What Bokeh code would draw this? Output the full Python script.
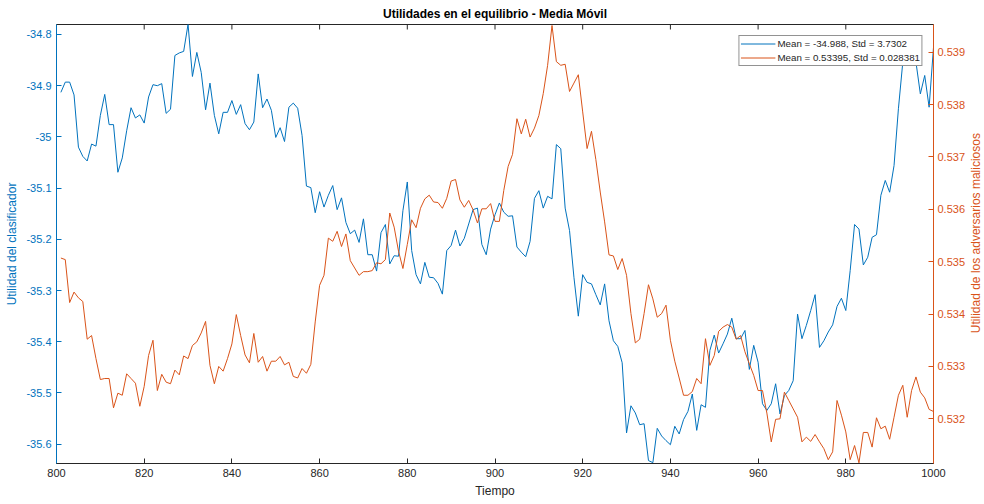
import math
from bokeh.plotting import figure
from bokeh.layouts import row
from bokeh.models import (Range1d, LinearAxis, FixedTicker, CustomJSTickFormatter,
                          Legend, LegendItem, ColumnDataSource, Label)
from bokeh.embed import file_html
from bokeh.resources import INLINE

# ---------------- data ----------------
tiempo = list(range(801, 1001))

utilidad_clasificador = [
    -34.913, -34.893, -34.893, -34.918, -35.020, -35.038, -35.047, -35.014, -35.018, -34.958,
    -34.917, -34.976, -34.976, -35.069, -35.041, -34.988, -34.943, -34.963, -34.957, -34.973,
    -34.922, -34.898, -34.900, -34.896, -34.954, -34.946, -34.841, -34.836, -34.833, -34.780,
    -34.882, -34.835, -34.874,
    -34.947, -34.895, -34.958, -34.994, -34.952, -34.952, -34.929, -34.956, -34.937, -34.974,
    -34.986, -34.971, -34.877, -34.943, -34.926, -34.948, -35.001, -34.982, -35.009, -34.942,
    -34.934, -34.944, -34.997, -35.096, -35.099, -35.148, -35.107, -35.137, -35.114, -35.095,
    -35.142, -35.119, -35.167,
    -35.189, -35.182, -35.206, -35.160, -35.230, -35.230, -35.262, -35.187, -35.171, -35.248,
    -35.232, -35.233, -35.144, -35.088, -35.222, -35.269, -35.287, -35.245, -35.274, -35.275,
    -35.286, -35.307, -35.222, -35.212, -35.182, -35.213, -35.198, -35.170, -35.142, -35.139,
    -35.210, -35.230, -35.180,
    -35.152, -35.129, -35.147, -35.155, -35.154, -35.215, -35.225, -35.234, -35.204, -35.120,
    -35.105, -35.139, -35.116, -35.121, -35.015, -35.023, -35.139, -35.183, -35.274, -35.350,
    -35.269, -35.284, -35.287, -35.308, -35.328, -35.287, -35.359, -35.398, -35.409, -35.441,
    -35.578, -35.525, -35.539,
    -35.562, -35.560, -35.632, -35.636, -35.569, -35.584, -35.593, -35.601, -35.565, -35.580,
    -35.552, -35.536, -35.502, -35.573, -35.523, -35.528, -35.417, -35.387, -35.422, -35.404,
    -35.385, -35.354, -35.394, -35.394, -35.378, -35.454, -35.407, -35.440, -35.521, -35.534,
    -35.521, -35.482, -35.541,
    -35.505, -35.495, -35.476, -35.346, -35.394, -35.368, -35.339, -35.308, -35.411, -35.398,
    -35.381, -35.367, -35.331, -35.315, -35.339, -35.261, -35.171, -35.180, -35.250, -35.235,
    -35.196, -35.191, -35.114, -35.085, -35.108, -35.056, -34.945, -34.854, -34.808, -34.825,
    -34.854, -34.916, -34.880, -34.942, -34.825,
]

utilidad_adversarios = [
    0.53507, 0.53504, 0.53422, 0.53442, 0.53431, 0.53424, 0.53352, 0.53359, 0.53315, 0.53275,
    0.53277, 0.53277, 0.53221, 0.53249, 0.53245, 0.53286, 0.53277, 0.53268, 0.53224, 0.53262,
    0.53321, 0.53350, 0.53254, 0.53285, 0.53270, 0.53267, 0.53293, 0.53284, 0.53320, 0.53315,
    0.53340, 0.53347, 0.53364,
    0.53386, 0.53302, 0.53267, 0.53300, 0.53291, 0.53315, 0.53343, 0.53399, 0.53359, 0.53322,
    0.53307, 0.53363, 0.53308, 0.53319, 0.53291, 0.53310, 0.53310, 0.53319, 0.53303, 0.53308,
    0.53281, 0.53278, 0.53296, 0.53287, 0.53304, 0.53385, 0.53455, 0.53474, 0.53545, 0.53539,
    0.53558, 0.53529, 0.53553,
    0.53502, 0.53488, 0.53474, 0.53481, 0.53481, 0.53483, 0.53498, 0.53496, 0.53504, 0.53593,
    0.53566, 0.53520, 0.53487, 0.53533, 0.53580, 0.53565, 0.53602, 0.53620, 0.53627, 0.53614,
    0.53613, 0.53602, 0.53621, 0.53654, 0.53657, 0.53618, 0.53604, 0.53617, 0.53599, 0.53574,
    0.53601, 0.53601, 0.53611,
    0.53577, 0.53577, 0.53636, 0.53682, 0.53705, 0.53773, 0.53744, 0.53772, 0.53738, 0.53755,
    0.53779, 0.53821, 0.53875, 0.53951, 0.53882, 0.53875, 0.53877, 0.53825, 0.53841, 0.53857,
    0.53786, 0.53716, 0.53749, 0.53695, 0.53633, 0.53576, 0.53513, 0.53511, 0.53485, 0.53506,
    0.53474, 0.53401, 0.53345,
    0.53352, 0.53401, 0.53456, 0.53429, 0.53394, 0.53401, 0.53417, 0.53350, 0.53310, 0.53278,
    0.53245, 0.53245, 0.53252, 0.53277, 0.53267, 0.53353, 0.53302, 0.53321, 0.53367, 0.53375,
    0.53380, 0.53375, 0.53352, 0.53359, 0.53328, 0.53305, 0.53283, 0.53254, 0.53254, 0.53211,
    0.53156, 0.53199, 0.53200,
    0.53251, 0.53235, 0.53219, 0.53203, 0.53156, 0.53165, 0.53157, 0.53170, 0.53156, 0.53143,
    0.53122, 0.53137, 0.53235, 0.53207, 0.53175, 0.53122, 0.53149, 0.53116, 0.53174, 0.53174,
    0.53146, 0.53202, 0.53181, 0.53186, 0.53161, 0.53203, 0.53245, 0.53264, 0.53203, 0.53254,
    0.53280, 0.53251, 0.53240, 0.53218, 0.53214,
]

x_ticks = [800, 820, 840, 860, 880, 900, 920, 940, 960, 980, 1000]
left_ticks = [-35.6, -35.5, -35.4, -35.3, -35.2, -35.1, -35.0, -34.9, -34.8]
right_ticks = [0.532, 0.533, 0.534, 0.535, 0.536, 0.537, 0.538, 0.539]

legend_labels = ["Mean = -34.988, Std = 3.7302", "Mean = 0.53395, Std = 0.028381"]
title_text = "Utilidades en el equilibrio - Media Móvil"
x_label = "Tiempo"
left_label = "Utilidad del clasificador"
right_label = "Utilidad de los adversarios maliciosos"

# ---------------- layout / styling ----------------
W, H = 984, 504
STRIP_W = 16                      # narrow strip on the right that holds the right axis title
B_LEFT, B_RIGHT, B_TOP, B_BOTTOM = 56, 34, 24, 41
MAIN_W = W - STRIP_W
FRAME_W = MAIN_W - B_LEFT - B_RIGHT
FRAME_H = H - B_TOP - B_BOTTOM
X0, X1 = 800, 1000
YL0, YL1 = -35.6377, -34.7805
YR0, YR1 = 0.531147, 0.539529

BLUE = "#0072BD"
ORANGE = "#D95319"
GRAY = "#262626"
FONT = "Liberation Sans"

src = ColumnDataSource(dict(t=tiempo, u=utilidad_clasificador, a=utilidad_adversarios))

p = figure(width=MAIN_W, height=H, output_backend="svg", toolbar_location=None,
           x_range=Range1d(X0, X1), y_range=Range1d(YL0, YL1),
           x_axis_location=None, y_axis_location=None,
           min_border_left=B_LEFT, min_border_right=B_RIGHT,
           min_border_top=B_TOP, min_border_bottom=B_BOTTOM)
p.extra_y_ranges = {"right": Range1d(YR0, YR1)}

p.grid.visible = False
p.outline_line_color = GRAY
p.outline_line_width = 1
p.background_fill_color = "white"
p.border_fill_color = "white"

fmt = CustomJSTickFormatter(code="return String(parseFloat(tick.toFixed(4)));")

def style_axis(ax, color, label_color):
    ax.axis_line_color = color
    ax.major_tick_line_color = color
    ax.major_tick_in = 5
    ax.major_tick_out = 0
    ax.minor_tick_line_color = None
    ax.major_label_text_color = label_color
    ax.major_label_text_font = FONT
    ax.major_label_text_font_size = "11px"
    ax.axis_label_text_color = label_color
    ax.axis_label_text_font = FONT
    ax.axis_label_text_font_size = "12px"
    ax.axis_label_text_font_style = "normal"
    ax.formatter = fmt

xb = LinearAxis(ticker=FixedTicker(ticks=x_ticks), axis_label=x_label)
style_axis(xb, GRAY, GRAY)
xb.major_label_standoff = 5
xb.axis_label_standoff = 4
p.add_layout(xb, "below")

yl = LinearAxis(ticker=FixedTicker(ticks=left_ticks), axis_label=left_label)
style_axis(yl, BLUE, BLUE)
yl.major_label_standoff = 5
yl.axis_label_standoff = 4
p.add_layout(yl, "left")

yr = LinearAxis(ticker=FixedTicker(ticks=right_ticks), y_range_name="right")
style_axis(yr, ORANGE, ORANGE)
yr.major_label_standoff = 4
p.add_layout(yr, "right")

# inward tick marks on the top edge of the box
tick_len = 5 * (YL1 - YL0) / FRAME_H
p.segment(x0=x_ticks, y0=[YL1] * len(x_ticks), x1=x_ticks, y1=[YL1 - tick_len] * len(x_ticks),
          line_color=GRAY, line_width=1)

r1 = p.line("t", "u", source=src, line_color=BLUE, line_width=1)
r2 = p.line("t", "a", source=src, line_color=ORANGE, line_width=1, y_range_name="right")

legend = Legend(items=[LegendItem(label=legend_labels[0], renderers=[r1]),
                       LegendItem(label=legend_labels[1], renderers=[r2])],
                location="top_right")
legend.margin = 11
legend.padding = 1
legend.spacing = 1
legend.glyph_width = 35
legend.glyph_height = 13
legend.label_standoff = 2
legend.label_height = 13
legend.label_text_font = FONT
legend.label_text_font_size = "9.75px"
legend.label_text_color = GRAY
legend.border_line_color = GRAY
legend.border_line_width = 1
legend.background_fill_color = "white"
legend.background_fill_alpha = 1
p.add_layout(legend, "center")

p.title.text = title_text
p.title.align = "center"
p.title.text_font = FONT
p.title.text_font_size = "12px"
p.title.text_font_style = "bold"
p.title.text_color = "#000000"
p.title.standoff = 7

# strip holding the right-hand axis title (reads bottom-to-top)
strip = figure(width=STRIP_W, height=H, output_backend="svg", toolbar_location=None,
               x_range=Range1d(0, STRIP_W), y_range=Range1d(0, H),
               x_axis_location=None, y_axis_location=None,
               min_border=0, outline_line_color=None)
strip.grid.visible = False
strip.border_fill_color = "white"
strip.background_fill_color = "white"
strip.add_layout(Label(x=STRIP_W / 2 - 1, y=B_BOTTOM + FRAME_H / 2 + 4, text=right_label,
                       angle=math.pi / 2, text_align="center", text_baseline="middle",
                       text_font=FONT, text_font_size="12px", text_color=ORANGE))

layout = row(p, strip, spacing=0)

open("out.html", "w").write(file_html(layout, INLINE))
